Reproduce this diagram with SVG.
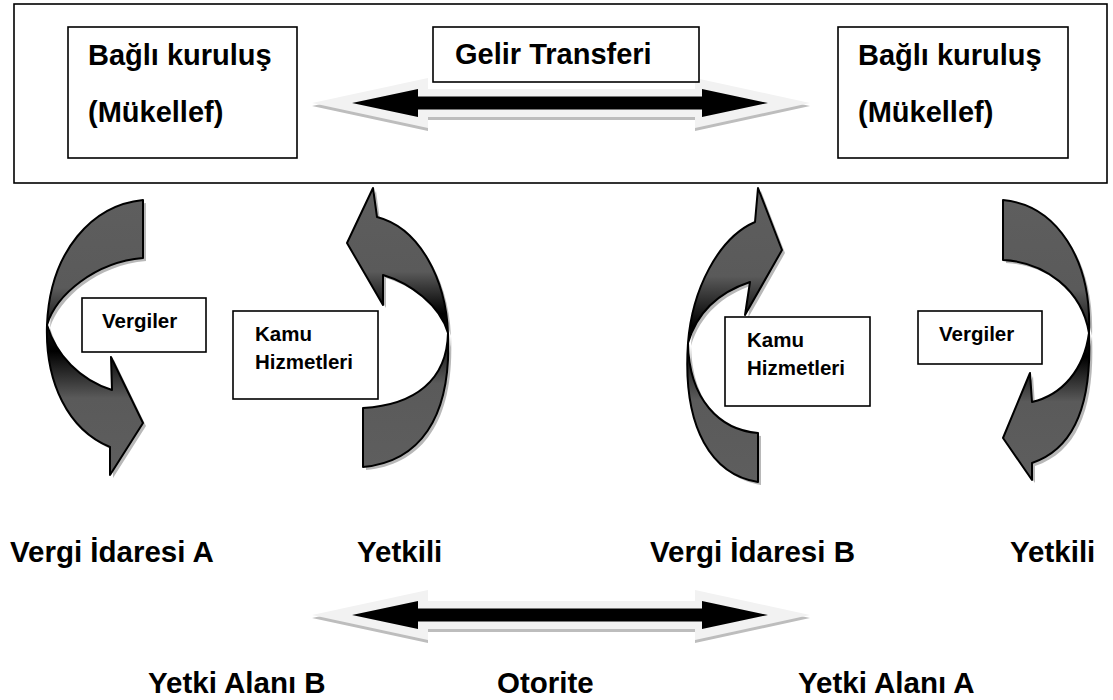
<svg xmlns="http://www.w3.org/2000/svg" width="1113" height="700" viewBox="0 0 1113 700">
<style>
.box{fill:#fff;stroke:#000;stroke-width:1.6}
.frame{fill:none;stroke:#000;stroke-width:1.6}
.t{font-family:"Liberation Sans",Arial,sans-serif;font-weight:bold;fill:#000}
.big{font-size:29px}
.mid{font-size:20.5px}
.lab{font-size:29.5px}
.curve{stroke:#000;stroke-width:2;stroke-linejoin:round}
.shadow{fill:#9a9a9a;opacity:0.7}
.light{fill:#f2f2f2}
.dark{fill:#bdbdbd}
.ink{fill:#000}
</style>
<defs>
<linearGradient id="g1" gradientUnits="userSpaceOnUse" x1="0" y1="200" x2="0" y2="475">
<stop offset="0" stop-color="#5e5e5e"/><stop offset="0.32" stop-color="#5a5a5a"/><stop offset="0.47" stop-color="#111"/><stop offset="0.55" stop-color="#000"/><stop offset="0.72" stop-color="#5a5a5a"/><stop offset="1" stop-color="#5e5e5e"/>
</linearGradient>
<linearGradient id="g2" gradientUnits="userSpaceOnUse" x1="0" y1="188" x2="0" y2="467">
<stop offset="0" stop-color="#5e5e5e"/><stop offset="0.3" stop-color="#5a5a5a"/><stop offset="0.45" stop-color="#000"/><stop offset="0.55" stop-color="#111"/><stop offset="0.7" stop-color="#5a5a5a"/><stop offset="1" stop-color="#5e5e5e"/>
</linearGradient>
<linearGradient id="g3" gradientUnits="userSpaceOnUse" x1="0" y1="188" x2="0" y2="482">
<stop offset="0" stop-color="#5e5e5e"/><stop offset="0.3" stop-color="#5a5a5a"/><stop offset="0.47" stop-color="#000"/><stop offset="0.56" stop-color="#111"/><stop offset="0.72" stop-color="#5a5a5a"/><stop offset="1" stop-color="#5e5e5e"/>
</linearGradient>
<linearGradient id="g4" gradientUnits="userSpaceOnUse" x1="0" y1="200" x2="0" y2="480">
<stop offset="0" stop-color="#5e5e5e"/><stop offset="0.32" stop-color="#5a5a5a"/><stop offset="0.48" stop-color="#111"/><stop offset="0.56" stop-color="#000"/><stop offset="0.72" stop-color="#5a5a5a"/><stop offset="1" stop-color="#5e5e5e"/>
</linearGradient>
<path id="dbl" d="M312,0 L428,-25 L428,-14 L695,-14 L695,-25 L810,0 L695,25 L695,14 L428,14 L428,25 Z"/>
<path id="blk" d="M352,0 L418,-14 L418,-6.5 L702,-6.5 L702,-14 L768,0 L702,14 L702,6.5 L418,6.5 L418,14 Z"/>
<path id="c1" d="M143,200 C93,205 50,250 47,325 C45,382 68,430 110,447 L110,475 L143,423 L111,357 L112,390 C80,380 56,355 47,325 C56,295 95,262 143,258 Z"/>
<path id="c2" d="M363,467 C418,462 452,420 448,333 C446,280 420,228 377,217 L373,188 L347,243 L383,305 L383,275 C410,283 440,305 448,333 C447,380 415,405 363,408 Z"/>
<path id="c3" d="M758,482 C713,475 682,430 688,343 C692,290 718,238 755,222 L758,188 L782,250 L745,315 L750,282 C720,292 697,312 688,343 C689,400 720,430 758,433 Z"/>
<path id="c4" d="M1003,200 C1057,205 1092,260 1089,333 C1092,400 1077,448 1032,463 L1032,480 L1003,438 L1030,373 L1032,402 C1062,395 1084,370 1089,333 C1082,290 1045,262 1003,260 Z"/>
</defs>

<g id="frame-top">
<rect class="frame" x="14" y="4" width="1093" height="179"/>
</g>

<g id="connectors">
<g id="arrow-gelir" transform="translate(0,103)">
<use href="#dbl" class="dark" transform="translate(0,3)"/>
<use href="#dbl" class="light"/>
<use href="#blk" class="ink"/>
</g>
<g id="arrow-otorite" transform="translate(0,615)">
<use href="#dbl" class="dark" transform="translate(0,3)"/>
<use href="#dbl" class="light"/>
<use href="#blk" class="ink"/>
</g>
<g id="curve-vergiler-a">
<use href="#c1" class="shadow" transform="translate(3,3)"/>
<use href="#c1" class="curve" fill="url(#g1)"/>
</g>
<g id="curve-kamu-a">
<use href="#c2" class="shadow" transform="translate(3,3)"/>
<use href="#c2" class="curve" fill="url(#g2)"/>
</g>
<g id="curve-kamu-b">
<use href="#c3" class="shadow" transform="translate(3,3)"/>
<use href="#c3" class="curve" fill="url(#g3)"/>
</g>
<g id="curve-vergiler-b">
<use href="#c4" class="shadow" transform="translate(3,3)"/>
<use href="#c4" class="curve" fill="url(#g4)"/>
</g>
</g>

<g id="node-bagli-left">
<rect class="box" x="68" y="27" width="229" height="131"/>
<text class="t big" x="88" y="65">Bağlı kuruluş</text>
<text class="t big" x="88" y="122">(Mükellef)</text>
</g>
<g id="node-gelir">
<rect class="box" x="433" y="27" width="266" height="55"/>
<text class="t big" x="455" y="64">Gelir Transferi</text>
</g>
<g id="node-bagli-right">
<rect class="box" x="838" y="27" width="230" height="131"/>
<text class="t big" x="858" y="65">Bağlı kuruluş</text>
<text class="t big" x="858" y="122">(Mükellef)</text>
</g>

<g id="node-vergiler-a">
<rect class="box" x="82" y="298" width="124" height="54"/>
<text class="t mid" x="102" y="328">Vergiler</text>
</g>
<g id="node-kamu-a">
<rect class="box" x="233" y="311" width="145" height="88"/>
<text class="t mid" x="255" y="341">Kamu</text>
<text class="t mid" x="255" y="369">Hizmetleri</text>
</g>
<g id="node-kamu-b">
<rect class="box" x="725" y="317" width="145" height="89"/>
<text class="t mid" x="747" y="347">Kamu</text>
<text class="t mid" x="747" y="375">Hizmetleri</text>
</g>
<g id="node-vergiler-b">
<rect class="box" x="918" y="311" width="124" height="53"/>
<text class="t mid" x="939" y="341">Vergiler</text>
</g>

<g id="labels">
<text class="t lab" x="10" y="562">Vergi İdaresi A</text>
<text class="t lab" x="357" y="562">Yetkili</text>
<text class="t lab" x="650" y="562">Vergi İdaresi B</text>
<text class="t lab" x="1010" y="562">Yetkili</text>
<text class="t lab" x="148" y="693">Yetki Alanı B</text>
<text class="t lab" x="497" y="693">Otorite</text>
<text class="t lab" x="798" y="693">Yetki Alanı A</text>
</g>
</svg>
